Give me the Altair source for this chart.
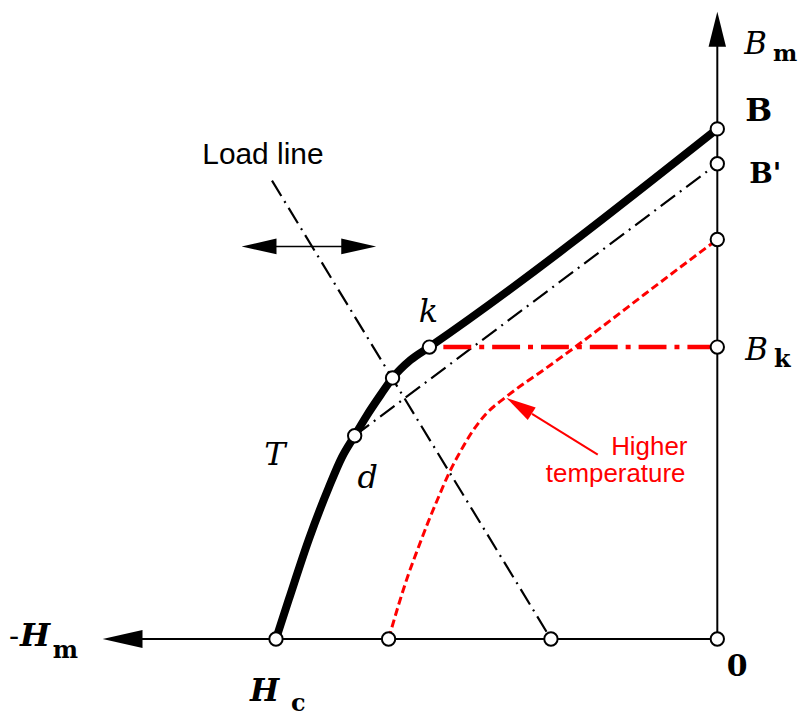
import altair as alt
import pandas as pd

# ---------------- data (schematic units: H to the left is negative, B upward) ----------------
# main demagnetisation curve (Hc -> d -> intersection -> k -> B)
main_H = [-443, -430, -410, -390, -377, -364, -352, -338, -326, -308, -289, 0]
main_B = [0, 40, 100, 152, 182, 204, 224, 245, 262, 280, 293, 512]

# higher-temperature curve
hot_H = [-330, -320, -310, -300, -290, -280, -270, -258, -246, -232, -212, -173, -140, -107, -73, -40, 0]
hot_B = [0, 34, 65, 92, 118, 142, 165, 188, 208, 226, 243, 271, 295, 320, 346, 371, 401]

# recoil line d -> B'
recoil_H = [-364, 0]
recoil_B = [204, 477]

# load line
load_H = [-447, -167]
load_B = [460, 0]

# knee level Bk
knee_H = [-275, 0]
knee_B = [293, 293]

# marked points: Hc, hot Hc, load-line foot, 0, d, operating point, k, B, B', hot Br, Bk
point_H = [-443, -330, -167, 0, -364, -326, -289, 0, 0, 0, 0]
point_B = [0, 0, 0, 0, 204, 262, 293, 512, 477, 401, 293]

# axes
haxis_H = [-580, 0]
haxis_B = [0, 0]
vaxis_H = [0, 0]
vaxis_B = [0, 598]

# double arrow (load line shifting) and red pointer
shift_H = [-462, -358]
shift_B = [394, 394]
pointer_H = [-186, -120]
pointer_B = [226, 185]

# ---------------- helpers ----------------
xs = alt.Scale(domain=[-712, 78], nice=False, zero=False)
ys = alt.Scale(domain=[-68, 632], nice=False, zero=False)


def enc(**kw):
    return dict(x=alt.X('x:Q', scale=xs, axis=None),
                y=alt.Y('y:Q', scale=ys, axis=None), **kw)


def line(H, B, **mark):
    df = pd.DataFrame({'x': H, 'y': B, 'o': list(range(len(H)))})
    return alt.Chart(df).mark_line(**mark).encode(**enc(order='o:Q'))


def head(x, y, shape, size, color='black', angle=0):
    df = pd.DataFrame({'x': [x], 'y': [y]})
    return alt.Chart(df).mark_point(shape=shape, size=size, filled=True, color=color,
                                    opacity=1, angle=angle, strokeWidth=0).encode(**enc())


def text(s, x, y, size, font='DejaVu Serif', style='normal', weight='normal',
         align='left', color='black'):
    df = pd.DataFrame({'x': [x], 'y': [y], 't': [s]})
    return alt.Chart(df).mark_text(align=align, baseline='alphabetic', font=font,
                                   fontSize=size, fontStyle=style, fontWeight=weight,
                                   color=color).encode(**enc(text='t:N'))


LEFT = "M-1,0L1,-0.45L1,0.45Z"
RIGHT = "M1,0L-1,-0.45L-1,0.45Z"
UP = "M0,-1L0.5,1L-0.5,1Z"
PTR = "M-1,0L1,-0.5L1,0.5Z"
RED = '#ff0000'

layers = [
    line(haxis_H, haxis_B, color='black', strokeWidth=2),
    line(vaxis_H, vaxis_B, color='black', strokeWidth=2),
    head(-597, 0, LEFT, 1600),
    head(0, 612, UP, 1225),
    line(load_H, load_B, color='black', strokeWidth=2.2, strokeDash=[18, 6, 2, 6]),
    line(recoil_H, recoil_B, color='black', strokeWidth=2.2, strokeDash=[18, 6, 2, 6]),
    line(shift_H, shift_B, color='black', strokeWidth=1.5),
    head(-460, 394, LEFT, 1225),
    head(-360, 394, RIGHT, 1225),
    line(knee_H, knee_B, color=RED, strokeWidth=4.5, strokeDash=[28, 8, 5, 8]),
    line(hot_H, hot_B, color=RED, strokeWidth=3, strokeDash=[8, 4], interpolate='monotone'),
    line(pointer_H, pointer_B, color=RED, strokeWidth=2),
    head(-199, 234, PTR, 900, color=RED, angle=32),
    line(main_H, main_B, color='black', strokeWidth=8, interpolate='monotone'),
    alt.Chart(pd.DataFrame({'x': point_H, 'y': point_B})).mark_point(
        shape='circle', size=180, filled=True, fill='white', stroke='black',
        strokeWidth=2, opacity=1).encode(**enc()),
    # labels
    text('-', -711, -7, 30),
    text('H', -700, -7, 32, style='italic', weight='bold'),
    text('m', -667, -19, 24, weight='bold'),
    text('H', -469, -62, 31, style='italic', weight='bold'),
    text('c', -428, -72, 24, weight='bold'),
    text('0', 20, -37, 30, weight='bold', align='center'),
    text('B', 27, 587, 31, style='italic'),
    text('m', 56, 580, 23, weight='bold'),
    text('B', 28, 520, 32, weight='bold'),
    text("B'", 32, 458, 28, weight='bold'),
    text('B', 28, 280, 31, style='italic'),
    text('k', 57, 273, 24, weight='bold'),
    text('T', -444, 175, 32, style='italic', align='center'),
    text('d', -351, 152, 32, style='italic', align='center'),
    text('k', -290, 318, 32, style='italic', align='center'),
    text('Load line', -517, 477, 30, font='Liberation Sans'),
    text('Higher', -30, 185, 26, font='Liberation Sans', align='right', color=RED),
    text('temperature', -32, 158, 26, font='Liberation Sans', align='right', color=RED),
]

chart = alt.layer(*layers).properties(width=790, height=700, padding=0,
                                      background='white').configure_view(stroke=None)

chart.save("out.html", embed_options={"renderer": "svg", "actions": False})
